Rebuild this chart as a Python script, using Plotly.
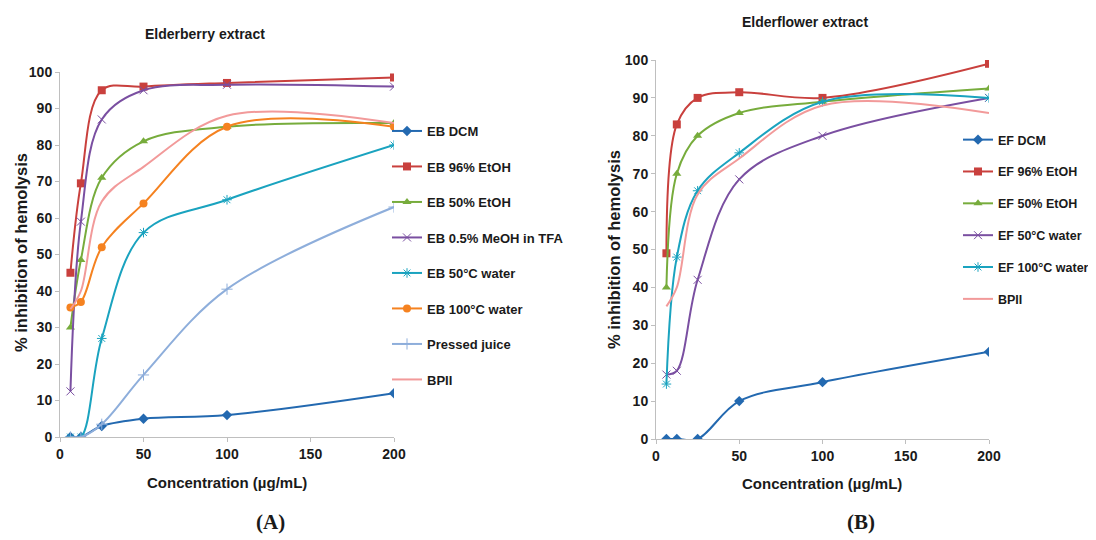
import plotly.graph_objects as go

conc = [6.25, 12.5, 25, 50, 100, 200]

# Elderberry (A)
eb_dcm = [0, 0, 3, 5, 6, 12]
eb_etoh96 = [45, 69.5, 95, 96, 97, 98.5]
eb_etoh50 = [30, 48.5, 71, 81, 85, 86]
eb_meoh = [12.5, 59, 87, 95, 96.5, 96]
eb_w50 = [0, 0, 27, 56, 65, 80]
eb_w100 = [35.5, 37, 52, 64, 85, 85]
pressed_juice = [0, 0, 3.5, 17, 40.5, 63]
bpii = [35, 40, 64.5, 74, 88, 86]

# Elderflower (B)
ef_dcm = [0, 0, 0, 10, 15, 23]
ef_etoh96 = [49, 83, 90, 91.5, 90, 99]
ef_etoh50 = [40, 70, 80, 86, 89, 92.5]
ef_w50 = [17, 18, 42, 68.5, 80, 90]
ef_w100 = [14.5, 48, 65.5, 75.5, 89, 90]

x_ticks = [0, 50, 100, 150, 200]
y_ticks = [0, 10, 20, 30, 40, 50, 60, 70, 80, 90, 100]

C_DCM = "#2369B0"
C_RED = "#C9403D"
C_GREEN = "#77AC3C"
C_PURPLE = "#7A4FA1"
C_TEAL = "#1AA3BF"
C_ORANGE = "#F58220"
C_JUICE = "#8EAEDB"
C_BPII = "#F29A9A"

FONT = "Liberation Sans Narrow, Arial Narrow, Liberation Sans, Arial"

fig = go.Figure()

def add(x, y, name, color, symbol, size, xa, ya, legend, thin=False):
    marker = dict(symbol=symbol, size=size, color=color)
    if thin:
        marker["line"] = dict(color=color, width=1)
    mode = "lines+markers" if symbol else "lines"
    fig.add_trace(go.Scatter(
        x=x, y=y, name=name, mode=mode,
        line=dict(color=color, width=2, shape="spline", smoothing=1),
        marker=marker if symbol else None,
        xaxis=xa, yaxis=ya, legend=legend, legendgroup=legend + name,
    ))

add(conc, eb_dcm, "EB DCM", C_DCM, "diamond", 8, "x", "y", "legend")
add(conc, eb_etoh96, "EB 96% EtOH", C_RED, "square", 8, "x", "y", "legend")
add(conc, eb_etoh50, "EB 50% EtOH", C_GREEN, "triangle-up", 8, "x", "y", "legend")
add(conc, eb_meoh, "EB 0.5% MeOH in TFA", C_PURPLE, "x-thin-open", 8, "x", "y", "legend", thin=True)
add(conc, eb_w50, "EB 50°C water", C_TEAL, "asterisk-open", 8, "x", "y", "legend", thin=True)
add(conc, eb_w100, "EB 100°C water", C_ORANGE, "circle", 8, "x", "y", "legend")
add(conc, pressed_juice, "Pressed juice", C_JUICE, "cross-thin-open", 8, "x", "y", "legend", thin=True)
add(conc, bpii, "BPII", C_BPII, None, 0, "x", "y", "legend")

add(conc, ef_dcm, "EF DCM", C_DCM, "diamond", 8, "x2", "y2", "legend2")
add(conc, ef_etoh96, "EF 96% EtOH", C_RED, "square", 8, "x2", "y2", "legend2")
add(conc, ef_etoh50, "EF 50% EtOH", C_GREEN, "triangle-up", 8, "x2", "y2", "legend2")
add(conc, ef_w50, "EF 50°C water", C_PURPLE, "x-thin-open", 8, "x2", "y2", "legend2", thin=True)
add(conc, ef_w100, "EF 100°C water", C_TEAL, "asterisk-open", 8, "x2", "y2", "legend2", thin=True)
add(conc, bpii, "BPII", C_BPII, None, 0, "x2", "y2", "legend2")

# page has an 8px body margin; size the figure to fit the window
OFF = 8
W, H = 1096 - OFF, 540 - OFF
def px(v):
    return (v - OFF) / W
def py(v):
    return 1 - (v - OFF) / H

axis_common = dict(
    showgrid=False, zeroline=False, showline=True, linecolor="#BFBFBF", linewidth=1,
    ticks="outside", ticklen=4, tickcolor="#BFBFBF", automargin=False,
    tickfont=dict(family=FONT, size=14, color="#1a1a1a", weight="bold"),
)

fig.update_layout(
    width=W, height=H,
    margin=dict(l=0, r=0, t=0, b=0, autoexpand=False),
    paper_bgcolor="white", plot_bgcolor="white",
    font=dict(family=FONT, color="#1a1a1a"),
    xaxis=dict(domain=[px(60), px(394)], range=[0, 200], tickvals=x_ticks, anchor="y", **axis_common),
    yaxis=dict(domain=[py(437), py(72)], range=[0, 100], tickvals=y_ticks, anchor="x", **axis_common),
    xaxis2=dict(domain=[px(656), px(989)], range=[0, 200], tickvals=x_ticks, anchor="y2", **axis_common),
    yaxis2=dict(domain=[py(439), py(60)], range=[0, 100], tickvals=y_ticks, anchor="x2", **axis_common),
    legend=dict(x=px(387), y=py(116), xanchor="left", yanchor="top",
                font=dict(family=FONT, size=13, color="#1a1a1a", weight="bold"),
                tracegroupgap=15.6, itemwidth=30, bgcolor="rgba(0,0,0,0)"),
    legend2=dict(x=px(958), y=py(125), xanchor="left", yanchor="top",
                 font=dict(family=FONT, size=12.5, color="#1a1a1a", weight="bold"),
                 tracegroupgap=12.6, itemwidth=30, bgcolor="rgba(0,0,0,0)"),
    showlegend=True,
)

def ann(text, x, y, size=14, angle=0, family=FONT):
    fig.add_annotation(text=text, x=px(x), y=py(y), xref="paper", yref="paper",
                       showarrow=False, textangle=angle, xanchor="center", yanchor="middle",
                       font=dict(family=family, size=size, color="#1a1a1a", weight="bold"))

ann("Elderberry extract", 205, 34, 14)
ann("Elderflower extract", 805, 22, 14)
ann("% inhibition of hemolysis", 21, 253, 16.5, -90)
ann("% inhibition of hemolysis", 614, 250, 16.5, -90)
ann("Concentration (µg/mL)", 227, 482, 15)
ann("Concentration (µg/mL)", 822, 483, 15)
ann("(A)", 270, 522, 21, 0, "Liberation Serif, Times New Roman, serif")
ann("(B)", 861, 522, 21, 0, "Liberation Serif, Times New Roman, serif")

fig.write_html("out.html")
